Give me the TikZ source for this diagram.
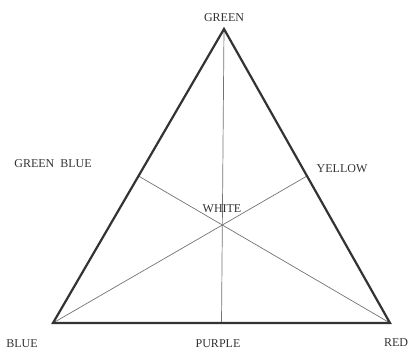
\documentclass[tikz,border=0pt]{standalone}
\usepackage{fontspec}
\setmainfont{Liberation Serif}
\usetikzlibrary{calc}
\begin{document}
\begin{tikzpicture}[x=1pt,y=-1pt,
  outline/.style={line width=2.2pt,draw=black!80,line join=miter},
  inner/.style={line width=0.7pt,draw=black!55},
  lbl/.style={font=\fontsize{12}{12}\selectfont,text=black!80,inner sep=0pt,anchor=base}]
\useasboundingbox (0,0) rectangle (410,354);
\coordinate (G) at (224,29);
\coordinate (B) at (53,323);
\coordinate (R) at (390,323);
\coordinate (mGB) at ($(G)!0.5!(B)$);
\coordinate (mGR) at ($(G)!0.5!(R)$);
\coordinate (mBR) at ($(B)!0.5!(R)$);
\draw[inner] (G) -- (mBR);
\draw[inner] (B) -- (mGR);
\draw[inner] (R) -- (mGB);
\draw[outline] (G) -- (B) -- (R) -- cycle;
\node[lbl] (tG) at (224,21) {GREEN};
\node[lbl] (tGB) at (53,167) {GREEN\ \ BLUE};
\node[lbl] (tY) at (342,172) {YELLOW};
\node[lbl] (tW) at (222,212) {WHITE};
\node[lbl] (tB) at (22,347) {BLUE};
\node[lbl] (tP) at (218,347) {PURPLE};
\node[lbl] (tR) at (396,346) {RED};
\end{tikzpicture}
\end{document}
